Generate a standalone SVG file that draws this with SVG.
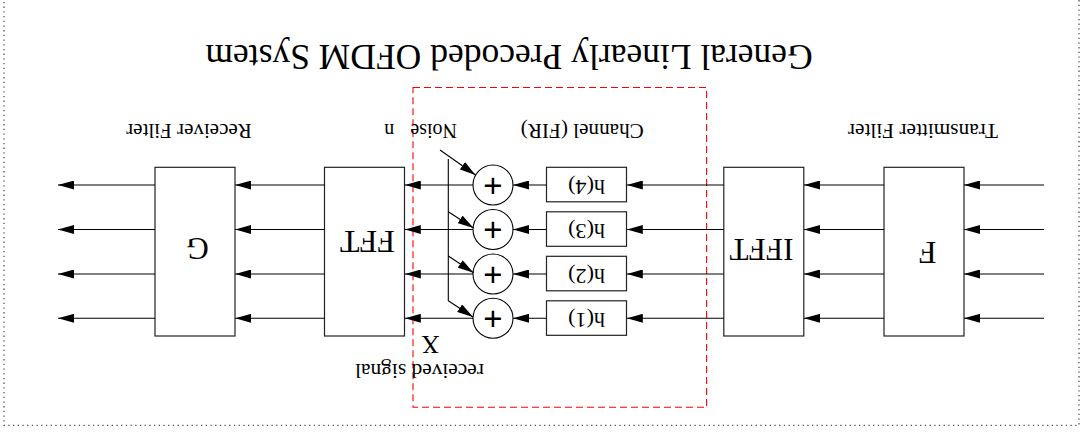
<svg xmlns="http://www.w3.org/2000/svg" width="1081" height="434" viewBox="0 0 1081 434">
<style>
  text { font-family: "Liberation Serif", "Times New Roman", serif; fill: #000; }
  .box { fill: #fff; stroke: #222; stroke-width: 1.2; }
  .hbox { fill: #fff; stroke: #222; stroke-width: 1.2; }
  .sum { fill: #fff; stroke: #000; stroke-width: 1.1; }
  .wire { fill: none; stroke: #000; stroke-width: 1.1; }
  .arrow { fill: none; stroke: #000; stroke-width: 1.1; marker-end: url(#ah); }
  .plus { font-family: "Liberation Sans", Arial, sans-serif; font-size: 33px; text-anchor: middle; }
  .lbl { font-size: 20.5px; text-anchor: middle; }
  .big { font-size: 32px; text-anchor: middle; }
  .hl { font-size: 20px; text-anchor: middle; }
</style>
<defs>
  <marker id="ah" markerUnits="userSpaceOnUse" markerWidth="16" markerHeight="9" viewBox="0 0 16 9" refX="16" refY="4.5" orient="auto">
    <path d="M0,0 L16,4.5 L0,9 z" fill="#000"/>
  </marker>
</defs>

<g id="frame">
  <rect x="4" y="-20" width="1075" height="445.3" fill="none" stroke="#555" stroke-width="1.3" stroke-dasharray="1.3 3.4"/>
</g>

<g id="title">
  <text x="509" y="45" font-size="35.5" text-anchor="middle" transform="rotate(180 509 45)">General Linearly Precoded OFDM System</text>
</g>

<g id="channel-region">
  <rect x="413" y="87.5" width="293.6" height="319.8" fill="none" stroke="#ff0000" stroke-width="1.1" stroke-dasharray="7 4"/>
</g>

<g id="labels">
  <text class="lbl" x="923" y="124" textLength="150" lengthAdjust="spacingAndGlyphs" transform="rotate(180 923 124)">Transmitter Filter</text>
  <text class="lbl" x="582.3" y="124" textLength="123" lengthAdjust="spacingAndGlyphs" transform="rotate(180 582.3 124)">Channel (FIR)</text>
  <text class="lbl" x="189" y="124" textLength="125.5" lengthAdjust="spacingAndGlyphs" transform="rotate(180 189 124)">Receiver Filter</text>
  <text x="457" y="124" font-size="20" transform="rotate(180 457 124)">Noise <tspan dx="11">n</tspan></text>
  <text x="430.5" y="336" font-size="25" text-anchor="middle" transform="rotate(180 430.5 336)">X</text>
  <text class="lbl" x="419.5" y="364" textLength="129" lengthAdjust="spacingAndGlyphs" transform="rotate(180 419.5 364)">received signal</text>
</g>

<g id="node-F">
  <rect class="box" x="884" y="167.3" width="80" height="168.7"/>
  <text class="big" x="927.7" y="242" font-size="31" transform="rotate(180 927.7 242)">F</text>
</g>
<g id="node-IFFT">
  <rect class="box" x="723.8" y="167.3" width="80" height="168.7"/>
  <text class="big" x="761.5" y="238.5" style="font-size:31px" transform="rotate(180 761.5 238.5)">IFFT</text>
</g>
<g id="node-FFT">
  <rect class="box" x="324.5" y="167.3" width="80" height="168.7"/>
  <text class="big" x="367.5" y="230.5" transform="rotate(180 367.5 230.5)">FFT</text>
</g>
<g id="node-G">
  <rect class="box" x="155" y="167.3" width="80" height="168.7"/>
  <text class="big" x="197.5" y="238" style="font-size:31px" transform="rotate(180 197.5 238)">G</text>
</g>

<g id="node-h4">
  <rect class="hbox" x="546.5" y="167.3" width="80" height="34.5"/>
  <text class="hl" x="586.5" y="179.5" textLength="37" lengthAdjust="spacingAndGlyphs" transform="rotate(180 586.5 179.5)">h(4)</text>
</g>
<g id="node-h3">
  <rect class="hbox" x="546.5" y="211.8" width="80" height="34.5"/>
  <text class="hl" x="586.5" y="224" textLength="37" lengthAdjust="spacingAndGlyphs" transform="rotate(180 586.5 224)">h(3)</text>
</g>
<g id="node-h2">
  <rect class="hbox" x="546.5" y="256.3" width="80" height="34.5"/>
  <text class="hl" x="586.5" y="268.5" textLength="37" lengthAdjust="spacingAndGlyphs" transform="rotate(180 586.5 268.5)">h(2)</text>
</g>
<g id="node-h1">
  <rect class="hbox" x="546.5" y="300.8" width="80" height="34.5"/>
  <text class="hl" x="586.5" y="313" textLength="37" lengthAdjust="spacingAndGlyphs" transform="rotate(180 586.5 313)">h(1)</text>
</g>

<g id="node-sum4">
  <circle class="sum" cx="493" cy="185" r="20"/>
  <text class="plus" x="493" y="196.8">+</text>
</g>
<g id="node-sum3">
  <circle class="sum" cx="493" cy="229.5" r="20"/>
  <text class="plus" x="493" y="241.3">+</text>
</g>
<g id="node-sum2">
  <circle class="sum" cx="493" cy="274" r="20"/>
  <text class="plus" x="493" y="285.8">+</text>
</g>
<g id="node-sum1">
  <circle class="sum" cx="493" cy="318.3" r="20"/>
  <text class="plus" x="493" y="330.1">+</text>
</g>

<g id="connectors">
  <!-- row 4 -->
  <line class="arrow" x1="1044" y1="185" x2="964" y2="185"/>
  <line class="arrow" x1="884" y1="185" x2="804" y2="185"/>
  <line class="arrow" x1="723.8" y1="185" x2="626.8" y2="185"/>
  <line class="arrow" x1="546.5" y1="185" x2="513" y2="185"/>
  <line class="arrow" x1="473" y1="185" x2="404.8" y2="185"/>
  <line class="arrow" x1="324.5" y1="185" x2="235.2" y2="185"/>
  <line class="arrow" x1="155" y1="185" x2="58" y2="185"/>
  <!-- row 3 -->
  <line class="arrow" x1="1044" y1="229.5" x2="964" y2="229.5"/>
  <line class="arrow" x1="884" y1="229.5" x2="804" y2="229.5"/>
  <line class="arrow" x1="723.8" y1="229.5" x2="626.8" y2="229.5"/>
  <line class="arrow" x1="546.5" y1="229.5" x2="513" y2="229.5"/>
  <line class="arrow" x1="473" y1="229.5" x2="404.8" y2="229.5"/>
  <line class="arrow" x1="324.5" y1="229.5" x2="235.2" y2="229.5"/>
  <line class="arrow" x1="155" y1="229.5" x2="58" y2="229.5"/>
  <!-- row 2 -->
  <line class="arrow" x1="1044" y1="274" x2="964" y2="274"/>
  <line class="arrow" x1="884" y1="274" x2="804" y2="274"/>
  <line class="arrow" x1="723.8" y1="274" x2="626.8" y2="274"/>
  <line class="arrow" x1="546.5" y1="274" x2="513" y2="274"/>
  <line class="arrow" x1="473" y1="274" x2="404.8" y2="274"/>
  <line class="arrow" x1="324.5" y1="274" x2="235.2" y2="274"/>
  <line class="arrow" x1="155" y1="274" x2="58" y2="274"/>
  <!-- row 1 -->
  <line class="arrow" x1="1044" y1="318.3" x2="964" y2="318.3"/>
  <line class="arrow" x1="884" y1="318.3" x2="804" y2="318.3"/>
  <line class="arrow" x1="723.8" y1="318.3" x2="626.8" y2="318.3"/>
  <line class="arrow" x1="546.5" y1="318.3" x2="513" y2="318.3"/>
  <line class="arrow" x1="473" y1="318.3" x2="404.8" y2="318.3"/>
  <line class="arrow" x1="324.5" y1="318.3" x2="235.2" y2="318.3"/>
  <line class="arrow" x1="155" y1="318.3" x2="58" y2="318.3"/>
  <!-- noise -->
  <line class="wire" x1="448.3" y1="159" x2="448.3" y2="301"/>
  <line class="arrow" x1="440" y1="150" x2="475.5" y2="175"/>
  <line class="arrow" x1="448.3" y1="211.7" x2="473.5" y2="228"/>
  <line class="arrow" x1="448.3" y1="256" x2="473.5" y2="272.8"/>
  <line class="arrow" x1="448.3" y1="300.7" x2="473" y2="317"/>
</g>
</svg>
